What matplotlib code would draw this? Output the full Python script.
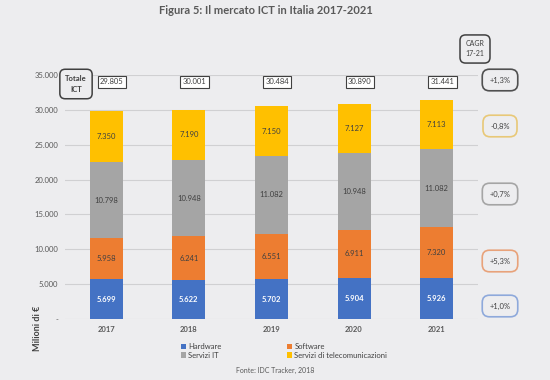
import matplotlib.pyplot as plt
import numpy as np

plt.rcParams['font.family'] = ['Lato', 'DejaVu Sans']

# Data (milioni di euro)
years = ["2017", "2018", "2019", "2020", "2021"]
hardware = [5699, 5622, 5702, 5904, 5926]
software = [5958, 6241, 6551, 6911, 7320]
servizi_it = [10798, 10948, 11082, 10948, 11082]
telecom = [7350, 7190, 7150, 7127, 7113]
totali = [29805, 30001, 30484, 30890, 31441]
cagr = ["+1,3%", "-0,8%", "+0,7%", "+5,3%", "+1,0%"]

series = [
    ("Hardware", hardware, "#4472C4"),
    ("Software", software, "#ED7D31"),
    ("Servizi IT", servizi_it, "#A5A5A5"),
    ("Servizi di telecomunicazioni", telecom, "#FFC000"),
]

bg = "#EDEDEF"
txt = "#595959"


def fmt(v):
    return f"{v:,}".replace(",", ".")


fig = plt.figure(figsize=(5.5, 3.8), dpi=100, facecolor=bg)
ax = fig.add_axes([0.118, 0.16, 0.751, 0.643], facecolor=bg)

x = np.arange(len(years))
bottom = np.zeros(len(years))
for name, vals, col in series:
    ax.bar(x, vals, 0.4, bottom=bottom, color=col, label=name, zorder=3)
    for xi, v, b0 in zip(x, vals, bottom):
        if name == "Hardware":
            ax.text(xi, b0 + v / 2, fmt(v), ha="center", va="center",
                    color="white", fontsize=5.5, fontweight="bold", zorder=4)
        else:
            ax.text(xi, b0 + v / 2, fmt(v), ha="center", va="center",
                    color="#404040", fontsize=5.5, zorder=4)
    bottom += np.array(vals)

# totali sopra le barre
for xi, t in zip(x, totali):
    ax.text(xi + 0.07, 34000, fmt(t), ha="center", va="center", fontsize=5.5,
            color="#404040",
            bbox=dict(boxstyle="square,pad=0.3", fc="white", ec="#404040", lw=0.8))

ax.set_xlim(-0.5, 4.5)
ax.set_ylim(0, 35000)
ax.set_xticks(x)
ax.set_xticklabels(years, fontsize=5.5, fontweight="bold", color=txt)
yt = np.arange(0, 35001, 5000)
ax.set_yticks(yt)
ax.set_yticklabels(["-"] + [fmt(int(v)) for v in yt[1:]], fontsize=5.5, color=txt)
ax.tick_params(length=0, pad=5)
ax.grid(axis="y", color="#D0D0D2", lw=0.8, zorder=0)
for s in ax.spines.values():
    s.set_visible(False)

fig.text(38 / 550, 1 - 328 / 380, "Milioni di €", rotation=90, ha="center",
         va="center", fontsize=6.5, fontweight="bold", color="#404040")

fig.text(266 / 550, 1 - 11 / 380, "Figura 5: Il mercato ICT in Italia 2017-2021",
         ha="center", va="center", fontsize=8, fontweight="bold", color=txt)

fig.text(76 / 550, 1 - 84 / 380, "Totale\nICT", ha="center", va="center",
         fontsize=5.5, fontweight="bold", color="#404040", linespacing=1.8,
         bbox=dict(boxstyle="round,pad=0.7", fc=bg, ec="#404040", lw=1.1))

fig.text(475 / 550, 1 - 49 / 380, "CAGR\n17-21", ha="center", va="center",
         fontsize=5, color="#404040", linespacing=1.5,
         bbox=dict(boxstyle="round,pad=0.8", fc=bg, ec="#404040", lw=1.1))

box_y = [80, 126, 194, 261, 306]
box_ec = ["#505050", "#E8C877", "#A5A5A5", "#E8A27A", "#8EA9DB"]
for lab, yy, ec in zip(cagr, box_y, box_ec):
    fig.text(500 / 550, 1 - yy / 380, lab, ha="center", va="center", fontsize=5.5,
             color="#404040",
             bbox=dict(boxstyle="round,pad=0.95", fc=bg, ec=ec, lw=1.2))

handles, labels = ax.get_legend_handles_labels()
order = [0, 2, 1, 3]
fig.legend([handles[i] for i in order], [labels[i] for i in order],
           loc="center", bbox_to_anchor=(284 / 550, 1 - 351 / 380), ncol=2,
           frameon=False, fontsize=5.5, handlelength=0.7, handleheight=0.7,
           handletextpad=0.3, columnspacing=8.5, labelspacing=0.2,
           labelcolor="#404040")

fig.text(275 / 550, 1 - 370 / 380, "Fonte: IDC Tracker, 2018", ha="center",
         va="center", fontsize=5, color=txt)

fig.savefig("out.png", dpi=100, facecolor=bg)
